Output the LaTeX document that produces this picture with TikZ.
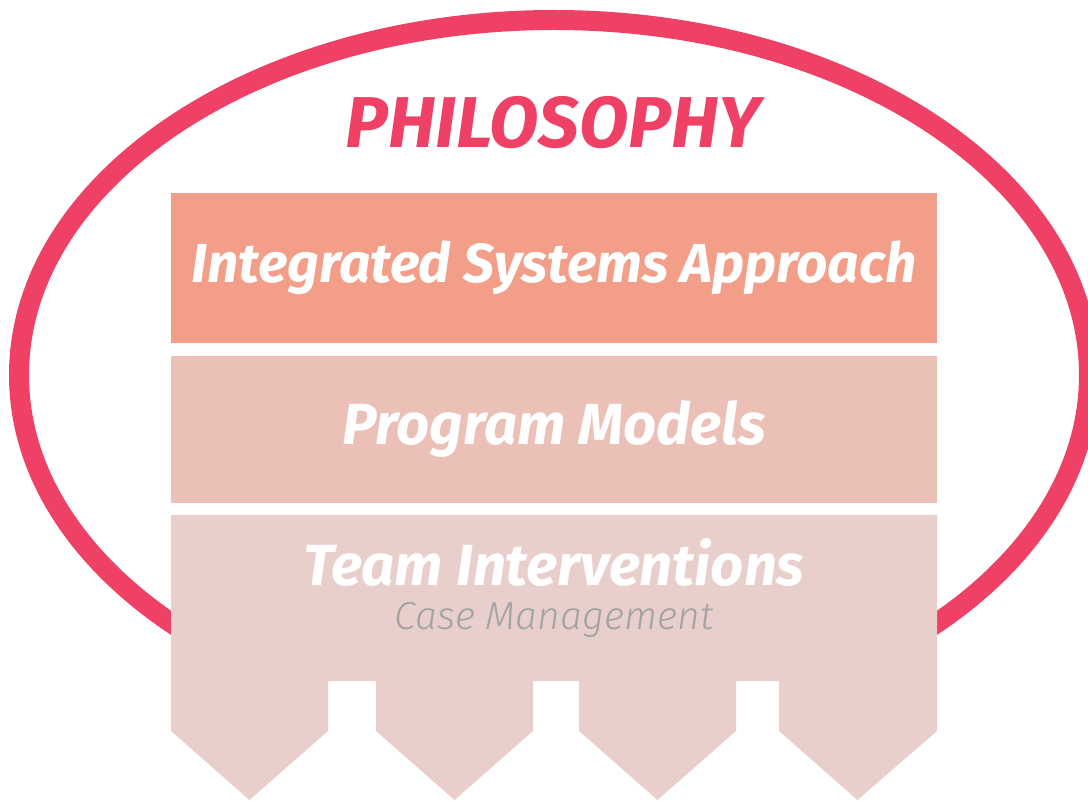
\documentclass[tikz,border=0pt]{standalone}
\usepackage{fontspec}
\setmainfont{Fira Sans}
\newfontfamily\lightfont{Fira Sans}[UprightFont=* Light, ItalicFont=* Light Italic]
\definecolor{ring}{HTML}{EF4066}
\definecolor{topbox}{HTML}{F29E89}
\definecolor{midbox}{HTML}{EBC0B7}
\definecolor{lowbox}{HTML}{E9CFCB}
\definecolor{casegray}{HTML}{A3A3A3}
\begin{document}
\begin{tikzpicture}[x=1pt,y=-1pt,
  layer/.style={inner sep=0pt, outer sep=0pt, minimum width=766pt},
  bigtext/.style={text=white, font=\fontsize{58}{60}\selectfont\bfseries\itshape, anchor=base},
  subtext/.style={text=casegray, font=\fontsize{39}{41}\selectfont\lightfont\itshape, anchor=base},
  titletext/.style={text=ring, font=\fontsize{72}{74}\selectfont\bfseries\itshape, anchor=base}]
\useasboundingbox (0,0) rectangle (1088,802);
\draw[ring, line width=20pt] (554,375) ellipse [x radius=535, y radius=355];
\fill[white] (171,505) rectangle (937,802);
\node[titletext] (title) at (553,148) {PHILOSOPHY};
\node[layer, fill=topbox, minimum height=150pt, anchor=north west] (isa) at (171,193) {};
\node[layer, fill=midbox, minimum height=147pt, anchor=north west] (pm) at (171,356) {};
\path[fill=lowbox] (171,515) -- (937,515) -- (937,731) -- (857.5,800) -- (779,731) -- (779,681)
  -- (736,681) -- (736,731) -- (657.5,800) -- (579,731) -- (579,681)
  -- (533,681) -- (533,731) -- (454.5,800) -- (376,731) -- (376,681)
  -- (328,681) -- (328,731) -- (249.5,800) -- (171,731) -- cycle;
\node[bigtext, font=\fontsize{55}{57}\selectfont\bfseries\itshape] (isat) at (554,283) {Integrated Systems Approach};
\node[bigtext] (pmt) at (554,445) {Program Models};
\node[bigtext] (tit) at (554,585) {Team Interventions};
\node[subtext] (cmt) at (554,629) {Case Management};
\end{tikzpicture}
\end{document}
